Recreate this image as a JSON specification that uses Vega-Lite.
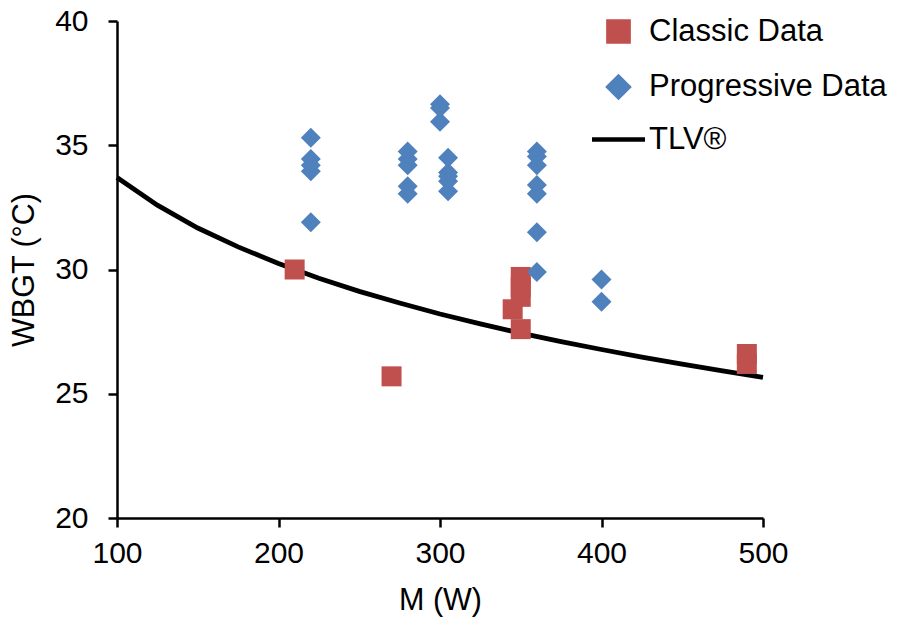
{
  "$schema": "https://vega.github.io/schema/vega-lite/v6.json",
  "width": 646,
  "height": 497,
  "autosize": "none",
  "padding": {"left": 117, "top": 21, "right": 135, "bottom": 101},
  "background": "white",
  "config": {
    "view": {"stroke": null},
    "font": "Liberation Sans",
    "axis": {
      "grid": false,
      "domainColor": "black",
      "domainWidth": 2.5,
      "tickColor": "black",
      "tickWidth": 2.5,
      "tickSize": 9,
      "labelFlush": false,
      "labelFont": "Liberation Sans",
      "labelFontSize": 30,
      "labelColor": "black",
      "titleFont": "Liberation Sans",
      "titleFontSize": 30.5,
      "titleFontWeight": "normal",
      "titleColor": "black"
    }
  },
  "datasets": {
    "tlv": [
      {"M": 100, "WBGT": 33.70, "series": "TLV®"},
      {"M": 125, "WBGT": 32.59, "series": "TLV®"},
      {"M": 150, "WBGT": 31.67, "series": "TLV®"},
      {"M": 175, "WBGT": 30.91, "series": "TLV®"},
      {"M": 200, "WBGT": 30.24, "series": "TLV®"},
      {"M": 225, "WBGT": 29.65, "series": "TLV®"},
      {"M": 250, "WBGT": 29.12, "series": "TLV®"},
      {"M": 275, "WBGT": 28.65, "series": "TLV®"},
      {"M": 300, "WBGT": 28.21, "series": "TLV®"},
      {"M": 325, "WBGT": 27.81, "series": "TLV®"},
      {"M": 350, "WBGT": 27.44, "series": "TLV®"},
      {"M": 375, "WBGT": 27.10, "series": "TLV®"},
      {"M": 400, "WBGT": 26.78, "series": "TLV®"},
      {"M": 425, "WBGT": 26.47, "series": "TLV®"},
      {"M": 450, "WBGT": 26.19, "series": "TLV®"},
      {"M": 475, "WBGT": 25.92, "series": "TLV®"},
      {"M": 500, "WBGT": 25.66, "series": "TLV®"}
    ],
    "points": [
      {"M": 210, "WBGT": 30.0, "series": "Classic Data"},
      {"M": 270, "WBGT": 25.7, "series": "Classic Data"},
      {"M": 350, "WBGT": 29.7, "series": "Classic Data"},
      {"M": 350, "WBGT": 29.3, "series": "Classic Data"},
      {"M": 350, "WBGT": 28.9, "series": "Classic Data"},
      {"M": 345, "WBGT": 28.4, "series": "Classic Data"},
      {"M": 350, "WBGT": 27.6, "series": "Classic Data"},
      {"M": 490, "WBGT": 26.6, "series": "Classic Data"},
      {"M": 490, "WBGT": 26.2, "series": "Classic Data"},
      {"M": 220, "WBGT": 35.3, "series": "Progressive Data"},
      {"M": 220, "WBGT": 34.45, "series": "Progressive Data"},
      {"M": 220, "WBGT": 34.2, "series": "Progressive Data"},
      {"M": 220, "WBGT": 33.95, "series": "Progressive Data"},
      {"M": 220, "WBGT": 31.9, "series": "Progressive Data"},
      {"M": 280, "WBGT": 34.75, "series": "Progressive Data"},
      {"M": 280, "WBGT": 34.45, "series": "Progressive Data"},
      {"M": 280, "WBGT": 34.2, "series": "Progressive Data"},
      {"M": 280, "WBGT": 33.35, "series": "Progressive Data"},
      {"M": 280, "WBGT": 33.05, "series": "Progressive Data"},
      {"M": 300, "WBGT": 36.65, "series": "Progressive Data"},
      {"M": 300, "WBGT": 36.5, "series": "Progressive Data"},
      {"M": 300, "WBGT": 35.95, "series": "Progressive Data"},
      {"M": 305, "WBGT": 34.5, "series": "Progressive Data"},
      {"M": 305, "WBGT": 33.9, "series": "Progressive Data"},
      {"M": 305, "WBGT": 33.75, "series": "Progressive Data"},
      {"M": 305, "WBGT": 33.55, "series": "Progressive Data"},
      {"M": 305, "WBGT": 33.15, "series": "Progressive Data"},
      {"M": 360, "WBGT": 34.75, "series": "Progressive Data"},
      {"M": 360, "WBGT": 34.55, "series": "Progressive Data"},
      {"M": 360, "WBGT": 34.2, "series": "Progressive Data"},
      {"M": 360, "WBGT": 33.4, "series": "Progressive Data"},
      {"M": 360, "WBGT": 33.05, "series": "Progressive Data"},
      {"M": 360, "WBGT": 31.5, "series": "Progressive Data"},
      {"M": 360, "WBGT": 29.9, "series": "Progressive Data"},
      {"M": 400, "WBGT": 29.6, "series": "Progressive Data"},
      {"M": 400, "WBGT": 28.7, "series": "Progressive Data"}
    ]
  },
  "encoding": {
    "x": {
      "field": "M", "type": "quantitative",
      "scale": {"domain": [100, 500], "nice": false, "zero": false},
      "axis": {"values": [100, 200, 300, 400, 500], "title": "M (W)", "labelPadding": 11, "titlePadding": 17}
    },
    "y": {
      "field": "WBGT", "type": "quantitative",
      "scale": {"domain": [20, 40], "nice": false, "zero": false},
      "axis": {"values": [20, 25, 30, 35, 40], "title": "WBGT (°C)", "labelPadding": 20, "titlePadding": 15}
    },
    "color": {
      "field": "series", "type": "nominal",
      "scale": {"domain": ["Classic Data", "Progressive Data", "TLV®"], "range": ["#C0504D", "#4F81BD", "#000000"]},
      "legend": {
        "title": null,
        "orient": "none",
        "legendX": 486,
        "legendY": -5,
        "padding": 0,
        "labelFont": "Liberation Sans",
        "labelFontSize": 31,
        "labelLimit": 400,
        "labelColor": "black",
        "labelOffset": 15,
        "rowPadding": 16.5,
        "symbolSize": 400,
        "encode": {
          "symbols": {
            "update": {
              "fill": {"signal": "datum.value === 'Classic Data' ? '#C0504D' : datum.value === 'Progressive Data' ? '#4F81BD' : 'transparent'"},
              "stroke": {"signal": "datum.value === 'TLV®' ? 'black' : 'transparent'"},
              "strokeWidth": {"value": 4.7},
              "size": {"signal": "datum.value === 'TLV®' ? 2809 : 400"},
              "opacity": {"value": 1}
            }
          }
        }
      }
    }
  },
  "layer": [
    {
      "data": {"name": "tlv"},
      "mark": {"type": "line", "strokeWidth": 4.8, "color": "black"}
    },
    {
      "data": {"name": "points"},
      "mark": {"type": "point", "filled": true, "size": 400, "opacity": 1},
      "encoding": {
        "shape": {
          "field": "series", "type": "nominal",
          "scale": {"domain": ["Classic Data", "Progressive Data", "TLV®"], "range": ["square", "diamond", "stroke"]},
          "legend": {
            "title": null,
            "orient": "none",
            "legendX": 486,
            "legendY": -5,
            "padding": 0,
            "labelFont": "Liberation Sans",
            "labelFontSize": 31,
            "labelLimit": 400,
            "labelColor": "black",
            "labelOffset": 15,
            "rowPadding": 16.5,
            "symbolSize": 400
          }
        }
      }
    }
  ]
}
